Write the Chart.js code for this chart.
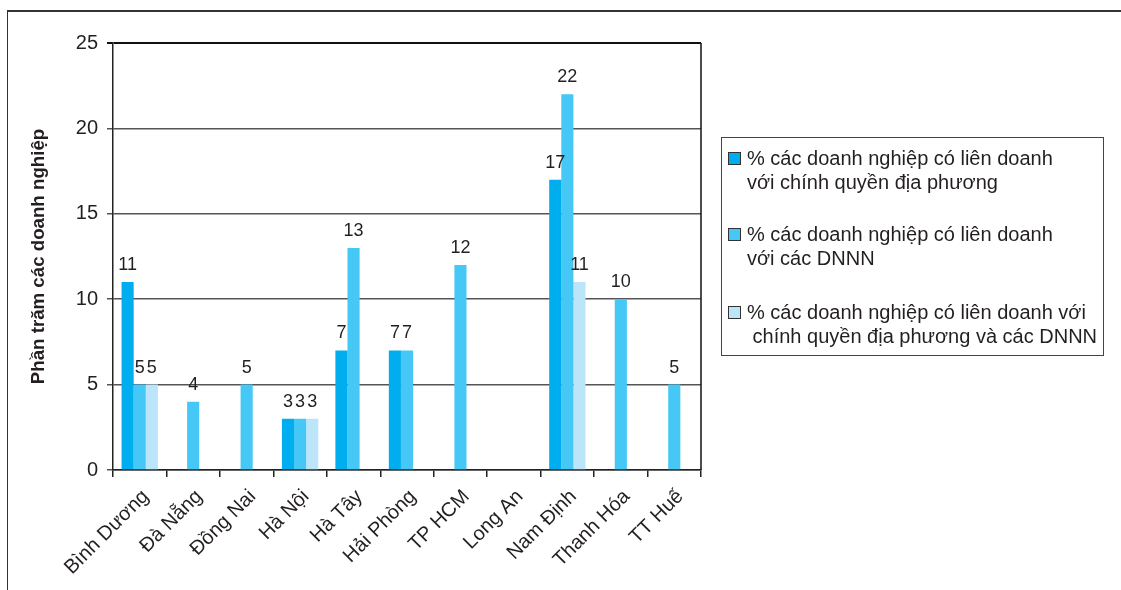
<!DOCTYPE html>
<html lang="vi">
<head>
<meta charset="utf-8">
<title>Phần trăm các doanh nghiệp có liên doanh</title>
<script src="https://cdn.jsdelivr.net/npm/chart.js@4/dist/chart.umd.min.js"></script>
<style>
  html, body { margin: 0; padding: 0; background: #fff; }
  #wrap { position: relative; width: 1121px; height: 590px; overflow: hidden; font-family: "Liberation Sans", Arial, sans-serif; color: #231f20; }
  #frame { position: absolute; left: 7px; top: 10px; width: 1200px; height: 700px; border-left: 1.5px solid #333; border-top: 2px solid #333; }
  #chart { position: absolute; left: 0; top: 0; }
  #legend { position: absolute; left: 721px; top: 137px; width: 383px; height: 219px; border: 1.5px solid #444; box-sizing: border-box; }
  .item { position: absolute; left: 6px; font-size: 20px; line-height: 24px; white-space: pre; }
  .swatch { position: absolute; left: 0; top: 6px; width: 11px; height: 11px; border: 1px solid #333; }
  .txt { position: absolute; left: 19px; top: 0; }
</style>
</head>
<body>
<div id="wrap">
  <div id="frame"></div>
  <canvas id="chart" width="1121" height="590"></canvas>
  <div id="legend"></div>
</div>
<script>
// Provinces / cities
const categories = ['Bình Dương', 'Đà Nẵng', 'Đồng Nai', 'Hà Nội', 'Hà Tây', 'Hải Phòng',
                    'TP HCM', 'Long An', 'Nam Định', 'Thanh Hóa', 'TT Huế'];

// % of firms with joint ventures, by partner
const withLocalGov = [11, null, null, 3, 7, 7, null, null, 17, null, null];
const withSOE      = [5, 4, 5, 3, 13, 7, 12, null, 22, 10, 5];
const withBoth     = [5, null, null, 3, null, null, null, null, 11, null, null];

const seriesLabels = [
  ['% các doanh nghiệp có liên doanh', 'với chính quyền địa phương'],
  ['% các doanh nghiệp có liên doanh', 'với các DNNN'],
  ['% các doanh nghiệp có liên doanh với', ' chính quyền địa phương và các DNNN']
];
const seriesColors = ['#00aeef', '#45c8f5', '#bce5f9'];

const yTicks = [0, 5, 10, 15, 20, 25];
const yTitle = 'Phần trăm các doanh nghiệp';

const textColor = '#231f20';
const fontFamily = '"Liberation Sans", Arial, sans-serif';

// Value labels above each bar
const valueLabels = {
  id: 'valueLabels',
  afterDatasetsDraw(chart) {
    const ctx = chart.ctx;
    ctx.save();
    ctx.font = '18px ' + fontFamily;
    ctx.fillStyle = textColor;
    ctx.textAlign = 'center';
    ctx.textBaseline = 'alphabetic';
    chart.data.datasets.forEach((ds, i) => {
      const meta = chart.getDatasetMeta(i);
      meta.data.forEach((bar, j) => {
        const v = ds.data[j];
        if (v === null || v === undefined) return;
        ctx.fillText(String(v), bar.x, bar.y - 12);
      });
    });
    ctx.restore();
  }
};

// Right edge of the plot area
const plotBorder = {
  id: 'plotBorder',
  afterDraw(chart) {
    const { ctx, chartArea: a } = chart;
    ctx.save();
    ctx.strokeStyle = '#111';
    ctx.lineWidth = 1.5;
    ctx.beginPath();
    ctx.moveTo(a.right, a.top);
    ctx.lineTo(a.right, a.bottom);
    ctx.stroke();
    ctx.restore();
  }
};

const datasets = [withLocalGov, withSOE, withBoth].map((data, i) => ({
  label: seriesLabels[i].join(' '),
  data: data,
  backgroundColor: seriesColors[i],
  borderWidth: 0,
  categoryPercentage: 0.68,
  barPercentage: 1.0
}));

new Chart(document.getElementById('chart'), {
  type: 'bar',
  data: { labels: categories, datasets: datasets },
  options: {
    responsive: false,
    devicePixelRatio: 1,
    animation: false,
    layout: { padding: { left: 0, top: 43, right: 420, bottom: 0 } },
    plugins: {
      legend: { display: false },
      tooltip: { enabled: false }
    },
    scales: {
      x: {
        grid: {
          offset: true,
          drawOnChartArea: false,
          drawTicks: true,
          tickLength: 7,
          color: '#222',
          lineWidth: 1.5
        },
        border: { color: '#222', width: 1.5 },
        ticks: {
          color: textColor,
          font: { family: fontFamily, size: 20 },
          minRotation: 45,
          maxRotation: 45,
          padding: 8,
          labelOffset: 6,
          autoSkip: false
        },
        afterFit(scale) { scale.height = 120; }
      },
      y: {
        min: 0,
        max: 25,
        afterBuildTicks(scale) { scale.ticks = yTicks.map(v => ({ value: v })); },
        grid: {
          color: ctx => (ctx.tick && ctx.tick.value === 25) ? '#111' : '#555',
          lineWidth: ctx => (ctx.tick && ctx.tick.value === 25) ? 2 : 1.5,
          tickLength: 6
        },
        border: { color: '#222', width: 1.5 },
        ticks: {
          color: textColor,
          font: { family: fontFamily, size: 20 },
          padding: 9
        },
        title: {
          display: true,
          text: yTitle,
          color: textColor,
          font: { family: fontFamily, size: 18.7, weight: 'bold' },
          padding: { top: 28, bottom: 0 }
        },
        afterFit(scale) { scale.width = 113; }
      }
    }
  },
  plugins: [valueLabels, plotBorder]
});

// Legend built from the same series definitions
const legend = document.getElementById('legend');
const itemTops = [8, 84, 162];
seriesLabels.forEach((lines, i) => {
  const item = document.createElement('div');
  item.className = 'item';
  item.style.top = itemTops[i] + 'px';
  const sw = document.createElement('div');
  sw.className = 'swatch';
  sw.style.background = seriesColors[i];
  const txt = document.createElement('div');
  txt.className = 'txt';
  txt.textContent = lines.join('\n');
  item.appendChild(sw);
  item.appendChild(txt);
  legend.appendChild(item);
});
</script>
</body>
</html>
